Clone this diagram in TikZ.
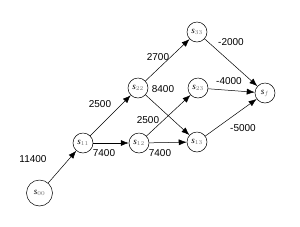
\documentclass[tikz,border=0pt]{standalone}
\usepackage{fontspec}
\setmainfont{Liberation Serif}
\newfontfamily\labfont{Liberation Sans}
\usetikzlibrary{arrows.meta}
\definecolor{subgray}{gray}{0.45}
\newcommand{\sn}[1]{$\mathit{s}_{\textcolor{subgray}{\scriptstyle #1}}$}
\begin{document}
\begin{tikzpicture}[x=1pt,y=-1pt,
  st/.style={circle,draw,line width=0.5pt,minimum size=20pt,inner sep=0pt,font=\fontsize{9}{9}\selectfont},
  bigst/.style={st,minimum size=26pt},
  ed/.style={line width=0.5pt,-{Latex[length=8pt,width=6pt]}},
  lab/.style={font=\labfont\fontsize{10}{10}\selectfont,inner sep=1pt}]
\useasboundingbox (0,0) rectangle (300,226);
\node[bigst] (s00) at (39.5,193) {\sn{00}};
\node[st] (s11) at (83,143) {\sn{11}};
\node[st] (s12) at (139,143) {\sn{12}};
\node[st] (s13) at (197,142) {\sn{13}};
\node[st] (s22) at (138,88) {\sn{22}};
\node[st] (s23) at (198,88) {\sn{23}};
\node[st] (s33) at (197,32) {\sn{33}};
\node[st] (sf) at (265,93) {\sn{f}};
\draw[ed] (s00) -- (s11);
\draw[ed] (s11) -- (s22);
\draw[ed] (s11) -- (s12);
\draw[ed] (s12) -- (s13);
\draw[ed] (s22) -- (s33);
\draw[ed] (s22) -- (s13);
\draw[ed] (s12) -- (s23);
\draw[ed] (s33) -- (sf);
\draw[ed] (s23) -- (sf);
\draw[ed] (s13) -- (sf);
\node[lab] (l1) at (33,159) {11400};
\node[lab] (l2) at (100,104) {2500};
\node[lab] (l3) at (104,153) {7400};
\node[lab] (l4) at (160,153) {7400};
\node[lab] (l5) at (158,57) {2700};
\node[lab] (l6) at (163,89) {8400};
\node[lab] (l7) at (148,120) {2500};
\node[lab] (l8) at (231,42) {-2000};
\node[lab] (l9) at (229,81) {-4000};
\node[lab] (l10) at (243,128) {-5000};
\end{tikzpicture}
\end{document}
